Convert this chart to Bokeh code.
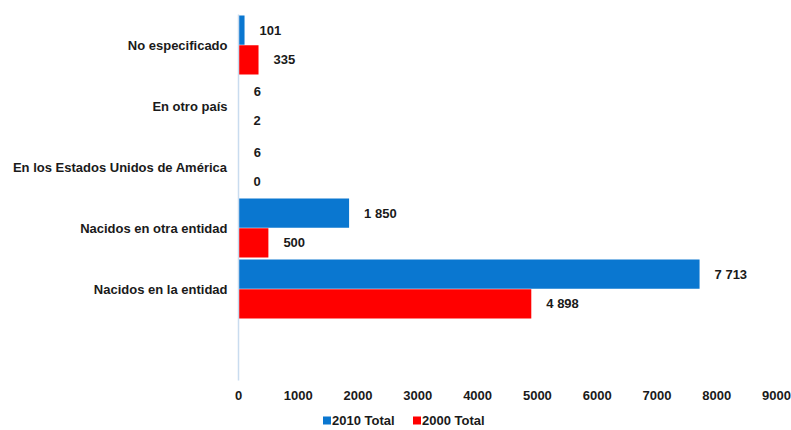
from bokeh.plotting import figure
from bokeh.layouts import column
from bokeh.models import ColumnDataSource, FixedTicker, Range1d
from bokeh.core.properties import value
from bokeh.embed import file_html
from bokeh.resources import INLINE

categories = ["Nacidos en la entidad", "Nacidos en otra entidad",
              "En los Estados Unidos de América", "En otro país", "No especificado"]
total_2010 = [7713, 1850, 6, 6, 101]
total_2000 = [4898, 500, 0, 2, 335]
x_ticks = [0, 1000, 2000, 3000, 4000, 5000, 6000, 7000, 8000, 9000]
series_names = ["2010 Total", "2000 Total"]

FONT = "Liberation Sans"
FS = "13px"
TXT = "#1a1a1a"
BLUE = "#0a77d0"
RED = "#ff0000"
COLORS = [BLUE, RED]

def fmt(v):
    return f"{v:,}".replace(",", " ")

centers = [i + 1.5 for i in range(len(categories))]
src10 = ColumnDataSource(dict(y=[c + 0.245 for c in centers], v=total_2010,
                              lab=[fmt(v) for v in total_2010]))
src00 = ColumnDataSource(dict(y=[c - 0.245 for c in centers], v=total_2000,
                              lab=[fmt(v) for v in total_2000]))

p = figure(frame_width=538, frame_height=366, output_backend="svg",
           toolbar_location=None,
           x_range=Range1d(0, 9000), y_range=Range1d(0, 6),
           min_border_left=238, min_border_right=15, min_border_top=14,
           min_border_bottom=26)
p.outline_line_color = None
p.background_fill_color = None
p.border_fill_color = "white"
p.xgrid.visible = False
p.ygrid.visible = False

p.hbar(y="y", right="v", left=0, height=0.48, source=src10,
       fill_color=BLUE, line_color=None)
p.hbar(y="y", right="v", left=0, height=0.48, source=src00,
       fill_color=RED, line_color=None)

for s in (src10, src00):
    p.text(x="v", y="y", text="lab", source=s, x_offset=15,
           text_baseline="middle", text_align="left",
           text_font=value(FONT), text_font_style="bold",
           text_font_size=FS, text_color=TXT)

# x axis
xa = p.xaxis[0]
xa.ticker = FixedTicker(ticks=x_ticks)
xa.axis_line_color = None
xa.major_tick_line_color = None
xa.minor_tick_line_color = None
xa.major_label_standoff = 4
xa.major_label_text_font = FONT
xa.major_label_text_font_style = "bold"
xa.major_label_text_font_size = FS
xa.major_label_text_color = TXT

# y axis
ya = p.yaxis[0]
ya.ticker = FixedTicker(ticks=centers)
ya.major_label_overrides = {c: n for c, n in zip(centers, categories)}
ya.axis_line_color = "#c9dcef"
ya.axis_line_width = 1.5
ya.major_tick_line_color = None
ya.minor_tick_line_color = None
ya.major_label_standoff = 5
ya.major_label_text_font = FONT
ya.major_label_text_font_style = "bold"
ya.major_label_text_font_size = FS
ya.major_label_text_color = TXT

# legend strip below the chart; its frame is aligned with the chart frame,
# so its x range is expressed in page pixels of that frame (238..776)
lf = figure(frame_width=538, frame_height=23, output_backend="svg",
            toolbar_location=None,
            x_range=Range1d(238, 776), y_range=Range1d(0, 23),
            min_border_left=238, min_border_right=15, min_border_top=0,
            min_border_bottom=0)
lf.axis.visible = False
lf.grid.visible = False
lf.outline_line_color = None
lf.border_fill_color = "white"
lf.background_fill_color = "white"
leg_x = [326.5, 416.5]
leg = ColumnDataSource(dict(x=leg_x, tx=[x + 5 for x in leg_x], y=[9, 9],
                            c=COLORS, name=series_names))
lf.rect(x="x", y="y", width=8, height=8, source=leg, fill_color="c",
        line_color=None)
lf.text(x="tx", y="y", text="name", source=leg, text_baseline="middle",
        text_align="left", text_font=value(FONT), text_font_style="bold",
        text_font_size=FS, text_color=TXT)

layout = column(p, lf, spacing=0)
open("out.html", "w").write(file_html(layout, INLINE))
